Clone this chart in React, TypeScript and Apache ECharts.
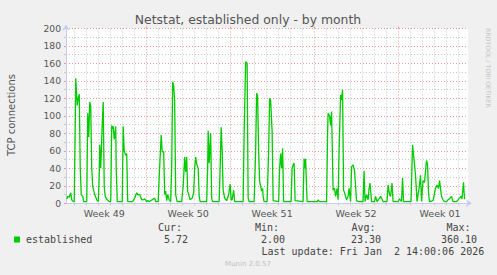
import React, { useEffect, useRef } from "react";
import * as echarts from "echarts";

// Time axis in hours since Sun Nov 30 2025 00:00
const xMinHour = 7.5;
const xMaxHour = 812;
const weekLabels = ["Week 49", "Week 50", "Week 51", "Week 52", "Week 01"];
const weekLabelHours = [84, 252, 420, 588, 756];
const weekStartHours = [168, 336, 504, 672];
const yTicks = [0, 20, 40, 60, 80, 100, 120, 140, 160, 180, 200];

// [hour, established connections]
const week49: number[][] = [
  [9, 5], [11, 8], [14, 7], [17, 12], [19, 4], [22, 2], [24, 2], [26, 90], [27, 143], [30, 112], [32, 120], [34, 125],
  [36, 40], [38, 10], [41, 8], [43, 2], [49, 2], [51, 103], [53, 76], [55, 116], [57, 111], [59, 40], [61, 19], [65, 10],
  [69, 4], [72, 2], [74, 30], [75, 67], [77, 40], [80, 90], [82, 116], [84, 19], [86, 8], [90, 4], [94, 2], [97, 2],
  [99, 89], [100, 85], [102, 88], [104, 73], [107, 88], [108, 40], [110, 2], [120, 2], [122, 88], [124, 60], [127, 55],
  [129, 57], [131, 2], [141, 2], [145, 6], [149, 12], [151, 10], [155, 10], [159, 4], [162, 4], [165, 5],
];
const week50: number[][] = [
  [169, 2], [171, 3], [175, 2], [185, 6], [187, 2], [192, 2], [194, 30], [198, 78], [200, 59], [203, 59], [205, 10],
  [207, 14], [209, 3], [211, 10], [214, 4], [217, 2], [219, 40], [221, 139], [223, 135], [225, 116], [227, 10], [230, 2],
  [239, 2], [242, 20], [245, 53], [247, 36], [249, 53], [251, 14], [254, 8], [256, 4], [260, 6], [263, 12], [265, 40],
  [267, 53], [269, 45], [272, 40], [274, 8], [276, 2], [289, 2], [291, 40], [292, 83], [294, 46], [297, 80], [299, 6],
  [301, 2], [314, 2], [316, 40], [318, 87], [320, 60], [322, 15], [325, 6], [329, 3], [333, 10],
];
const week51: number[][] = [
  [336, 22], [338, 4], [340, 4], [343, 15], [345, 2], [362, 2], [364, 80], [367, 162], [370, 160], [372, 6], [374, 2],
  [384, 2], [387, 60], [389, 126], [391, 122], [393, 60], [395, 25], [399, 14], [401, 17], [402, 8], [404, 2], [410, 2],
  [413, 60], [415, 120], [417, 118], [420, 82], [422, 3], [433, 2], [435, 40], [437, 57], [439, 40], [441, 63], [443, 2],
  [458, 2], [460, 40], [462, 44], [464, 46], [466, 3], [482, 2], [484, 51], [486, 40], [487, 51], [490, 2],
];
const week52: number[][] = [
  [511, 2], [512, 4], [515, 2], [529, 2], [531, 80], [532, 103], [535, 100], [537, 89], [539, 105], [542, 15], [545, 17],
  [547, 8], [550, 17], [552, 4], [554, 60], [557, 124], [559, 118], [561, 130], [563, 15], [565, 12], [569, 4], [572, 8],
  [574, 17], [577, 2], [579, 42], [582, 44], [585, 37], [589, 3], [592, 2], [602, 2], [604, 37], [606, 2], [609, 10],
  [612, 4], [614, 17], [616, 23], [619, 2], [625, 2], [627, 8], [630, 2], [635, 6], [637, 8], [639, 6], [642, 2],
  [650, 2], [652, 21], [655, 10], [657, 8], [660, 23], [662, 2],
];
const week01: number[][] = [
  [672, 2], [675, 5], [679, 2], [681, 29], [683, 2], [698, 2], [701, 67], [704, 50], [707, 32], [710, 2], [714, 17],
  [717, 32], [719, 2], [722, 26], [725, 24], [729, 49], [731, 45], [733, 12], [735, 2], [742, 3], [747, 17], [750, 21],
  [753, 17], [755, 26], [759, 8], [762, 4], [765, 2], [769, 2], [772, 4], [775, 5], [779, 8], [782, 2], [789, 2],
  [792, 4], [795, 6], [798, 8], [800, 5], [803, 24], [805, 5], [806, 6],
];

const legendHeaders = ["Cur:", "Min:", "Avg:", "Max:"];
const legendValues = ["5.72", "2.00", "23.30", "360.10"];

export default function App() {
  const ref = useRef<HTMLDivElement>(null);
  useEffect(() => {
    if (!ref.current) return;
    const chart = echarts.init(ref.current, null, { renderer: "svg" });
    const dayHours: number[] = [];
    for (let h = 24; h < xMaxHour; h += 24) {
      if (h > xMinHour && !weekStartHours.includes(h)) dayHours.push(h);
    }
    const grid = "#c8c8c8";
    const mgrid = "#ee9a9a";
    const axisCol = "#c8ccf2";
    const mono = "'DejaVu Sans Mono', monospace";
    const sans = "'DejaVu Sans', sans-serif";
    const headerX = [158, 255, 351.5, 446.5];
    const valueRight = [188, 285, 381, 477];
    const graphics: any[] = [
      { type: "text", x: 248, y: 19, style: { text: "Netstat, established only - by month", font: `12.4px ${sans}`, fill: "#555", align: "center", verticalAlign: "middle" } },
      { type: "text", x: 11, y: 115, rotation: Math.PI / 2, style: { text: "TCP connections", font: `10px ${sans}`, fill: "#555", align: "center", verticalAlign: "middle" } },
      { type: "text", x: 488.5, y: 68, rotation: -Math.PI / 2, style: { text: "RRDTOOL / TOBI OETIKER", font: `6.2px ${sans}`, fill: "#c6c6c6", align: "center", verticalAlign: "middle" } },
      { type: "rect", shape: { x: 14, y: 236.5, width: 6, height: 6 }, style: { fill: "#00cc00" } },
      { type: "text", x: 26, y: 239.5, style: { text: "established", font: `10px ${mono}`, fill: "#444", verticalAlign: "middle" } },
      { type: "text", x: 261.5, y: 251.7, style: { text: "Last update: Fri Jan  2 14:00:06 2026", font: `10px ${mono}`, fill: "#444", verticalAlign: "middle" } },
      { type: "text", x: 248, y: 263.5, style: { text: "Munin 2.0.57", font: `7px ${sans}`, fill: "#c0c0c0", align: "center", verticalAlign: "middle" } },
    ];
    legendHeaders.forEach((t, i) => {
      graphics.push({ type: "text", x: headerX[i], y: 227.3, style: { text: t, font: `10px ${mono}`, fill: "#444", verticalAlign: "middle" } });
    });
    legendValues.forEach((t, i) => {
      graphics.push({ type: "text", x: valueRight[i], y: 239.5, style: { text: t, font: `10px ${mono}`, fill: "#444", align: "right", verticalAlign: "middle" } });
    });

    chart.setOption({
      animation: false,
      backgroundColor: "#f0f0f0",
      grid: { left: 66, right: 29, top: 28.5, bottom: 71.7, show: true, backgroundColor: "#ffffff", borderWidth: 0 },
      xAxis: [
        {
          type: "value",
          min: xMinHour,
          max: xMaxHour,
          position: "bottom",
          axisLine: { show: true, lineStyle: { color: axisCol, width: 1 }, symbol: ["none", "arrow"], symbolSize: [6, 6], symbolOffset: [0, 4] },
          axisTick: { show: true, length: 2, customValues: dayHours, lineStyle: { color: grid } },
          splitLine: { show: true, lineStyle: { color: grid, type: [1, 2], width: 1 } },
          axisLabel: {
            show: true,
            customValues: weekLabelHours,
            formatter: (v: number) => weekLabels[weekLabelHours.indexOf(v)] ?? "",
            color: "#555",
            fontFamily: sans,
            fontSize: 9.5,
            margin: 5,
          },
        },
        {
          type: "value",
          min: xMinHour,
          max: xMaxHour,
          position: "top",
          axisLine: { show: false },
          axisTick: { show: true, length: 2, inside: false, customValues: weekStartHours, lineStyle: { color: mgrid } },
          splitLine: { show: true, lineStyle: { color: mgrid, type: [1, 2], width: 1 } },
          axisLabel: { show: false },
        },
      ],
      yAxis: {
        type: "value",
        min: 0,
        max: 200,
        interval: 20,
        axisLine: { show: true, lineStyle: { color: axisCol, width: 1 }, symbol: ["none", "arrow"], symbolSize: [6, 6], symbolOffset: [0, 4] },
        axisTick: { show: true, length: 2, lineStyle: { color: mgrid } },
        splitLine: { show: true, lineStyle: { color: mgrid, type: [1, 2], width: 1 } },
        minorTick: { show: true, splitNumber: 2, length: 2, lineStyle: { color: grid } },
        minorSplitLine: { show: true, lineStyle: { color: grid, type: [1, 2], width: 1 } },
        axisLabel: { color: "#555", fontFamily: sans, fontSize: 9.2, margin: 5, customValues: yTicks },
      },
      series: [
        {
          type: "line",
          xAxisIndex: 0,
          data: [...week49, ...week50, ...week51, ...week52, ...week01],
          showSymbol: false,
          symbol: "none",
          lineStyle: { color: "#00cc00", width: 1.3 },
          z: 5,
        },
      ],
      graphic: graphics,
    });
    return () => chart.dispose();
  }, []);
  return <div ref={ref} style={{ position: "fixed", left: 0, top: 0, width: 497, height: 275 }} />;
}
